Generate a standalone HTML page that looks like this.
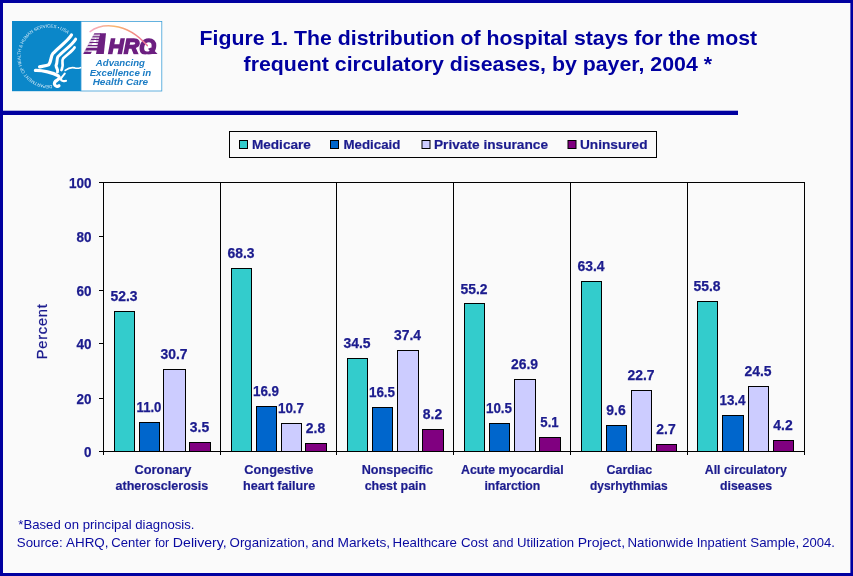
<!DOCTYPE html>
<html lang="en"><head><meta charset="utf-8">
<title>Figure 1. The distribution of hospital stays for the most frequent circulatory diseases, by payer, 2004</title>
<style>
html,body{margin:0;padding:0;background:#fafafa;}
body{width:853px;height:576px;overflow:hidden;font-family:"Liberation Sans",Arial,sans-serif;}
svg{display:block}
text{font-family:"Liberation Sans",Arial,sans-serif;}
.b{font-weight:bold;font-size:13.7px;fill:#1c1c8e;stroke:#1c1c8e;stroke-width:0.2px}
.c{font-weight:bold;font-size:12.9px;fill:#1c1c8e;stroke:#1c1c8e;stroke-width:0.2px}
.d{font-weight:bold;font-size:14px;fill:#1c1c8e;stroke:#1c1c8e;stroke-width:0.25px}
.t{font-weight:bold;font-size:20.6px;fill:#0000a0}
.f{font-size:13.33px;fill:#0a0aa0}
</style></head><body>
<svg width="853" height="576" viewBox="0 0 853 576">
<defs>
<linearGradient id="arc" x1="0" y1="0" x2="1" y2="0">
<stop offset="0" stop-color="#f4a6c8"/><stop offset="0.45" stop-color="#f9b66a"/><stop offset="1" stop-color="#ee6f9c"/>
</linearGradient>
<path id="seal" d="M 52.2,85.0 A 28.8,28.8 0 1 1 68.4,34.8"/>
</defs>
<rect x="0" y="0" width="853" height="576" fill="#fafafa"/>

<path d="M0,0H853V576H0Z M3,3V573H850.4V3Z" fill="#0000a0" fill-rule="evenodd"/>
<rect x="3" y="110.7" width="735" height="4.3" fill="#0000a0"/>
<g id="logo">
<rect x="12" y="21" width="69" height="70.2" fill="#0b87c9"/>
<rect x="81" y="21.4" width="80.8" height="69.6" fill="#ffffff" stroke="#3d9fd8" stroke-width="0.8"/>
<text font-family="'Liberation Serif',serif" font-size="4.5px" fill="#d4eaf7" letter-spacing="0"><textPath href="#seal" textLength="113" lengthAdjust="spacing">DEPARTMENT OF HEALTH &amp; HUMAN SERVICES • USA</textPath></text>
<g transform="translate(30,30) scale(0.104167)" fill="none" stroke="#ffffff" stroke-linecap="round" stroke-linejoin="round">
<path stroke-width="31" d="M398,48 C 368,102 270,170 220,226 C 198,252 206,300 180,334 C 150,346 118,346 92,354"/>
<path stroke-width="29" d="M438,88 C 408,142 320,200 268,256 C 254,282 266,310 250,340 C 250,364 274,384 264,402"/>
<path stroke-width="26" d="M428,168 C 408,202 350,240 318,274 C 300,300 320,330 312,350 C 306,364 310,374 302,384"/>
<path stroke-width="16" d="M338,388 C 366,366 400,356 430,364 C 452,372 472,366 486,362"/>
<path stroke-width="31" d="M52,388 C 120,386 220,410 272,440 C 290,456 280,470 260,482 C 238,494 226,512 240,530 C 250,542 268,544 278,536"/>
<path stroke-width="20" d="M334,418 C 320,440 296,456 296,474 C 300,490 330,494 346,488"/>
</g>
<text x="83.3" y="54" font-weight="bold" font-style="italic" font-size="28.8px" fill="#6c1f80" fill-opacity="0.28">A</text>
<polygon points="100.0,33.35 106.0,33.35 103.8,54 96.0,54" fill="#6c1f80"/>
<polygon points="94.40,33.35 100.80,33.35 100.56,34.50 93.78,34.50" fill="#6c1f80"/>
<polygon points="92.87,36.20 100.20,36.20 99.97,37.30 92.28,37.30" fill="#6c1f80"/>
<polygon points="91.36,39.00 99.61,39.00 99.38,40.10 90.77,40.10" fill="#6c1f80"/>
<polygon points="89.80,41.90 99.00,41.90 98.77,43.00 89.21,43.00" fill="#6c1f80"/>
<polygon points="88.19,44.90 98.37,44.90 98.14,46.00 87.60,46.00" fill="#6c1f80"/>
<polygon points="86.53,48.00 97.72,48.00 97.22,50.40 85.24,50.40" fill="#6c1f80"/>
<polygon points="84.54,51.70 91.80,51.70 90.60,54.00 83.30,54.00" fill="#6c1f80"/>
<clipPath id="qc"><rect x="100" y="30" width="62" height="24.2"/></clipPath>
<polygon points="148.0,48.8 151.2,47.6 157.6,54.1 152.4,54.1" fill="#6c1f80"/>
<text clip-path="url(#qc)" x="108.2" y="53.5" font-weight="bold" font-style="italic" font-size="21.8px" fill="#6c1f80" stroke="#6c1f80" stroke-width="1.5" stroke-linejoin="miter" textLength="47.6" lengthAdjust="spacingAndGlyphs">HRQ</text>
<path d="M90.1,31.6 C 100,24 125,20 147.3,45.6" fill="none" stroke="url(#arc)" stroke-width="1.5" stroke-linecap="round"/>
<text x="120.4" y="66.0" text-anchor="middle" font-weight="bold" font-style="italic" font-size="9px" fill="#1b7cc4" textLength="49.1" lengthAdjust="spacingAndGlyphs">Advancing</text>
<text x="120.4" y="75.7" text-anchor="middle" font-weight="bold" font-style="italic" font-size="9px" fill="#1b7cc4" textLength="61.5" lengthAdjust="spacingAndGlyphs">Excellence in</text>
<text x="120.4" y="85.4" text-anchor="middle" font-weight="bold" font-style="italic" font-size="9px" fill="#1b7cc4" textLength="55.5" lengthAdjust="spacingAndGlyphs">Health Care</text>
</g>

<text class="t" x="478.3" y="44.7" text-anchor="middle" textLength="557.5" lengthAdjust="spacingAndGlyphs">Figure 1. The distribution of hospital stays for the most</text>
<text class="t" x="477.8" y="70.6" text-anchor="middle" textLength="468.5" lengthAdjust="spacingAndGlyphs">frequent circulatory diseases, by payer, 2004 *</text>
<rect x="229.5" y="131.5" width="427" height="26" fill="#fafafa" stroke="#000" stroke-width="1"/>
<rect x="239.5" y="140.5" width="8" height="8" fill="#33cccc" stroke="#000" stroke-width="1"/>
<text class="b" x="251.9" y="149" textLength="59.0" lengthAdjust="spacingAndGlyphs">Medicare</text>
<rect x="330.5" y="140.5" width="8" height="8" fill="#0066cc" stroke="#000" stroke-width="1"/>
<text class="b" x="343.4" y="149" textLength="57.0" lengthAdjust="spacingAndGlyphs">Medicaid</text>
<rect x="422.0" y="140.5" width="8" height="8" fill="#ccccff" stroke="#000" stroke-width="1"/>
<text class="b" x="434.0" y="149" textLength="114.0" lengthAdjust="spacingAndGlyphs">Private insurance</text>
<rect x="568.0" y="140.5" width="8" height="8" fill="#800080" stroke="#000" stroke-width="1"/>
<text class="b" x="580.0" y="149" textLength="67.5" lengthAdjust="spacingAndGlyphs">Uninsured</text>
<g shape-rendering="crispEdges" stroke="#000" stroke-width="1" fill="none">
<path d="M99,182.5H804.5 M99,451.5H805"/>
<path d="M103.5,182V455"/>
<path d="M220.5,182V455"/>
<path d="M336.5,182V455"/>
<path d="M453.5,182V455"/>
<path d="M570.5,182V455"/>
<path d="M687.5,182V455"/>
<path d="M804.5,182V455"/>
<path d="M99,398.5H104"/>
<path d="M99,343.5H104"/>
<path d="M99,290.5H104"/>
<path d="M99,236.5H104"/>
</g>
<text class="d" x="91.6" y="456.5" text-anchor="end" textLength="7.5" lengthAdjust="spacingAndGlyphs">0</text>
<text class="d" x="91.6" y="403.5" text-anchor="end" textLength="15.0" lengthAdjust="spacingAndGlyphs">20</text>
<text class="d" x="91.6" y="348.5" text-anchor="end" textLength="15.0" lengthAdjust="spacingAndGlyphs">40</text>
<text class="d" x="91.6" y="295.5" text-anchor="end" textLength="15.0" lengthAdjust="spacingAndGlyphs">60</text>
<text class="d" x="91.6" y="241.5" text-anchor="end" textLength="15.0" lengthAdjust="spacingAndGlyphs">80</text>
<text class="d" x="91.6" y="187.5" text-anchor="end" textLength="22.5" lengthAdjust="spacingAndGlyphs">100</text>
<text x="47" y="331.7" transform="rotate(-90 47 331.7)" text-anchor="middle" font-size="14.67px" fill="#1c1c8e" textLength="55" lengthAdjust="spacing" stroke="#1c1c8e" stroke-width="0.25">Percent</text>
<g shape-rendering="crispEdges" stroke="#000" stroke-width="1">
<rect x="114.5" y="311.5" width="20" height="140" fill="#33cccc"/>
<rect x="139.5" y="422.5" width="20" height="29" fill="#0066cc"/>
<rect x="163.5" y="369.5" width="22" height="82" fill="#ccccff"/>
<rect x="189.5" y="442.5" width="21" height="9" fill="#800080"/>
<rect x="231.5" y="268.5" width="20" height="183" fill="#33cccc"/>
<rect x="256.5" y="406.5" width="20" height="45" fill="#0066cc"/>
<rect x="281.5" y="423.5" width="20" height="28" fill="#ccccff"/>
<rect x="305.5" y="443.5" width="21" height="8" fill="#800080"/>
<rect x="347.5" y="358.5" width="20" height="93" fill="#33cccc"/>
<rect x="372.5" y="407.5" width="20" height="44" fill="#0066cc"/>
<rect x="397.5" y="350.5" width="21" height="101" fill="#ccccff"/>
<rect x="422.5" y="429.5" width="21" height="22" fill="#800080"/>
<rect x="464.5" y="303.5" width="20" height="148" fill="#33cccc"/>
<rect x="489.5" y="423.5" width="20" height="28" fill="#0066cc"/>
<rect x="514.5" y="379.5" width="21" height="72" fill="#ccccff"/>
<rect x="539.5" y="437.5" width="21" height="14" fill="#800080"/>
<rect x="581.5" y="281.5" width="20" height="170" fill="#33cccc"/>
<rect x="606.5" y="425.5" width="20" height="26" fill="#0066cc"/>
<rect x="631.5" y="390.5" width="20" height="61" fill="#ccccff"/>
<rect x="656.5" y="444.5" width="20" height="7" fill="#800080"/>
<rect x="697.5" y="301.5" width="20" height="150" fill="#33cccc"/>
<rect x="722.5" y="415.5" width="21" height="36" fill="#0066cc"/>
<rect x="748.5" y="386.5" width="20" height="65" fill="#ccccff"/>
<rect x="773.5" y="440.5" width="20" height="11" fill="#800080"/>
</g>
<text class="d" x="124.0" y="301.2" text-anchor="middle" textLength="27.1" lengthAdjust="spacingAndGlyphs">52.3</text>
<text class="d" x="149.0" y="411.8" text-anchor="middle" textLength="24.9" lengthAdjust="spacingAndGlyphs">11.0</text>
<text class="d" x="174.0" y="358.8" text-anchor="middle" textLength="27.1" lengthAdjust="spacingAndGlyphs">30.7</text>
<text class="d" x="199.5" y="431.8" text-anchor="middle" textLength="19.4" lengthAdjust="spacingAndGlyphs">3.5</text>
<text class="c" x="163.0" y="474.4" text-anchor="middle" textLength="56.8" lengthAdjust="spacingAndGlyphs">Coronary</text>
<text class="c" x="161.9" y="490.4" text-anchor="middle" textLength="92.8" lengthAdjust="spacingAndGlyphs">atherosclerosis</text>
<text class="d" x="241.0" y="257.8" text-anchor="middle" textLength="27.1" lengthAdjust="spacingAndGlyphs">68.3</text>
<text class="d" x="266.0" y="395.8" text-anchor="middle" textLength="26.1" lengthAdjust="spacingAndGlyphs">16.9</text>
<text class="d" x="291.0" y="412.8" text-anchor="middle" textLength="26.1" lengthAdjust="spacingAndGlyphs">10.7</text>
<text class="d" x="315.5" y="432.8" text-anchor="middle" textLength="19.4" lengthAdjust="spacingAndGlyphs">2.8</text>
<text class="c" x="278.8" y="474.4" text-anchor="middle" textLength="69.0" lengthAdjust="spacingAndGlyphs">Congestive</text>
<text class="c" x="279.1" y="490.4" text-anchor="middle" textLength="72.2" lengthAdjust="spacingAndGlyphs">heart failure</text>
<text class="d" x="357.0" y="347.8" text-anchor="middle" textLength="27.1" lengthAdjust="spacingAndGlyphs">34.5</text>
<text class="d" x="382.0" y="396.8" text-anchor="middle" textLength="26.1" lengthAdjust="spacingAndGlyphs">16.5</text>
<text class="d" x="407.5" y="339.8" text-anchor="middle" textLength="27.1" lengthAdjust="spacingAndGlyphs">37.4</text>
<text class="d" x="432.5" y="418.8" text-anchor="middle" textLength="19.4" lengthAdjust="spacingAndGlyphs">8.2</text>
<text class="c" x="397.4" y="474.4" text-anchor="middle" textLength="71.5" lengthAdjust="spacingAndGlyphs">Nonspecific</text>
<text class="c" x="395.4" y="490.4" text-anchor="middle" textLength="61.5" lengthAdjust="spacingAndGlyphs">chest pain</text>
<text class="d" x="474.0" y="293.8" text-anchor="middle" textLength="27.1" lengthAdjust="spacingAndGlyphs">55.2</text>
<text class="d" x="499.0" y="412.8" text-anchor="middle" textLength="26.1" lengthAdjust="spacingAndGlyphs">10.5</text>
<text class="d" x="524.5" y="368.8" text-anchor="middle" textLength="27.1" lengthAdjust="spacingAndGlyphs">26.9</text>
<text class="d" x="549.5" y="426.8" text-anchor="middle" textLength="18.3" lengthAdjust="spacingAndGlyphs">5.1</text>
<text class="c" x="512.3" y="474.4" text-anchor="middle" textLength="102.6" lengthAdjust="spacingAndGlyphs">Acute myocardial</text>
<text class="c" x="512.4" y="490.4" text-anchor="middle" textLength="55.9" lengthAdjust="spacingAndGlyphs">infarction</text>
<text class="d" x="591.0" y="270.8" text-anchor="middle" textLength="27.1" lengthAdjust="spacingAndGlyphs">63.4</text>
<text class="d" x="616.0" y="414.8" text-anchor="middle" textLength="19.4" lengthAdjust="spacingAndGlyphs">9.6</text>
<text class="d" x="641.0" y="379.8" text-anchor="middle" textLength="27.1" lengthAdjust="spacingAndGlyphs">22.7</text>
<text class="d" x="666.0" y="433.8" text-anchor="middle" textLength="19.4" lengthAdjust="spacingAndGlyphs">2.7</text>
<text class="c" x="629.3" y="474.4" text-anchor="middle" textLength="45.5" lengthAdjust="spacingAndGlyphs">Cardiac</text>
<text class="c" x="628.8" y="490.4" text-anchor="middle" textLength="77.7" lengthAdjust="spacingAndGlyphs">dysrhythmias</text>
<text class="d" x="707.0" y="290.8" text-anchor="middle" textLength="27.1" lengthAdjust="spacingAndGlyphs">55.8</text>
<text class="d" x="732.5" y="404.8" text-anchor="middle" textLength="26.1" lengthAdjust="spacingAndGlyphs">13.4</text>
<text class="d" x="758.0" y="375.8" text-anchor="middle" textLength="27.1" lengthAdjust="spacingAndGlyphs">24.5</text>
<text class="d" x="783.0" y="429.8" text-anchor="middle" textLength="19.4" lengthAdjust="spacingAndGlyphs">4.2</text>
<text class="c" x="745.8" y="474.4" text-anchor="middle" textLength="82.1" lengthAdjust="spacingAndGlyphs">All circulatory</text>
<text class="c" x="746.1" y="490.4" text-anchor="middle" textLength="52.2" lengthAdjust="spacingAndGlyphs">diseases</text>
<text class="f" x="18.3" y="529" textLength="176.2" lengthAdjust="spacingAndGlyphs">*Based on principal diagnosis.</text>
<text class="f" x="16.8" y="546.5" textLength="45.8" lengthAdjust="spacingAndGlyphs">Source:</text>
<text class="f" x="66.0" y="546.5" textLength="42.5" lengthAdjust="spacingAndGlyphs">AHRQ,</text>
<text class="f" x="111.3" y="546.5" textLength="39.2" lengthAdjust="spacingAndGlyphs">Center</text>
<text class="f" x="154.9" y="546.5" textLength="14.3" lengthAdjust="spacingAndGlyphs">for</text>
<text class="f" x="172.8" y="546.5" textLength="54.0" lengthAdjust="spacingAndGlyphs">Delivery,</text>
<text class="f" x="229.6" y="546.5" textLength="79.0" lengthAdjust="spacingAndGlyphs">Organization,</text>
<text class="f" x="311.5" y="546.5" textLength="22.4" lengthAdjust="spacingAndGlyphs">and</text>
<text class="f" x="337.5" y="546.5" textLength="52.7" lengthAdjust="spacingAndGlyphs">Markets,</text>
<text class="f" x="392.6" y="546.5" textLength="64.4" lengthAdjust="spacingAndGlyphs">Healthcare</text>
<text class="f" x="461.0" y="546.5" textLength="27.3" lengthAdjust="spacingAndGlyphs">Cost</text>
<text class="f" x="492.4" y="546.5" textLength="21.0" lengthAdjust="spacingAndGlyphs">and</text>
<text class="f" x="517.0" y="546.5" textLength="57.1" lengthAdjust="spacingAndGlyphs">Utilization</text>
<text class="f" x="577.7" y="546.5" textLength="47.4" lengthAdjust="spacingAndGlyphs">Project,</text>
<text class="f" x="627.5" y="546.5" textLength="65.8" lengthAdjust="spacingAndGlyphs">Nationwide</text>
<text class="f" x="696.7" y="546.5" textLength="49.6" lengthAdjust="spacingAndGlyphs">Inpatient</text>
<text class="f" x="750.3" y="546.5" textLength="48.9" lengthAdjust="spacingAndGlyphs">Sample,</text>
<text class="f" x="802.2" y="546.5" textLength="32.6" lengthAdjust="spacingAndGlyphs">2004.</text>
</svg></body></html>
